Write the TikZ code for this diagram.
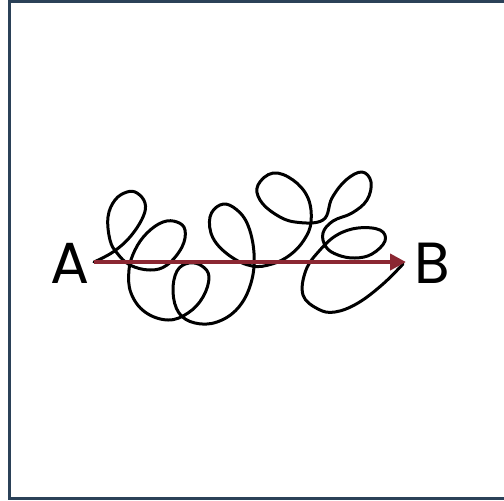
\documentclass[tikz,border=0pt]{standalone}
\usepackage{fontspec}
\setmainfont{Poppins}
\usetikzlibrary{arrows.meta}
\definecolor{frameBlue}{HTML}{2B4158}
\definecolor{pathRed}{HTML}{8B2732}

\begin{document}
\begin{tikzpicture}[x=0.5pt,y=-0.5pt,
      lbl/.style={font=\fontsize{29}{30}\selectfont,anchor=base,inner sep=0pt},
      wander/.style={line width=1.5pt,black,line cap=round,line join=round},
      direct/.style={line width=2pt,pathRed,-{Triangle[length=8pt,width=8pt]}}]
      \useasboundingbox (0,0) rectangle (504,500);
      \draw[frameBlue,line width=1.5pt] (9.5,1.5) rectangle (530,498.5);
      \node[lbl] (A) at (70,283) {A};
      \node[lbl] (B) at (432,283) {B};
      \coordinate (start) at (94,262);
      \coordinate (goal) at (406,262);
      % the long way round
      \draw[wander] plot[smooth,tension=0.65] coordinates {(start) (113,252) (130,237) (143,217) (145,203) (137,193)
        (127,192) (115,200) (108,217) (110,240) (117,253) (130,265) (150,270) (167,265) (182,247) (185,230)
        (177,222) (163,222) (147,233) (135,250) (129,270) (131,293) (145,312) (168,320) (188,313) (203,297)
        (209,277) (202,266) (189,263) (177,271) (173,292) (179,313) (195,323) (217,322) (238,308) (251,283)
        (254,253) (247,223) (233,207) (220,205) (210,217) (213,238) (230,256) (252,266) (272,264)
        (290,255) (304,240) (311,222) (308,198) (293,180) (273,173) (258,185) (260,200) (275,214)
        (295,222) (323,220) (332,198) (346,180) (362,172) (371,182) (367,200) (352,213) (333,221)
        (323,233) (326,247) (338,255) (355,258) (372,254) (385,241) (380,230) (358,228) (337,235)
        (320,250) (306,270) (303,295) (318,309) (335,312) (358,303) (383,284) (403,264)};
      % the short way
      \draw[direct] (start) -- (goal);
    \end{tikzpicture}
\end{document}
